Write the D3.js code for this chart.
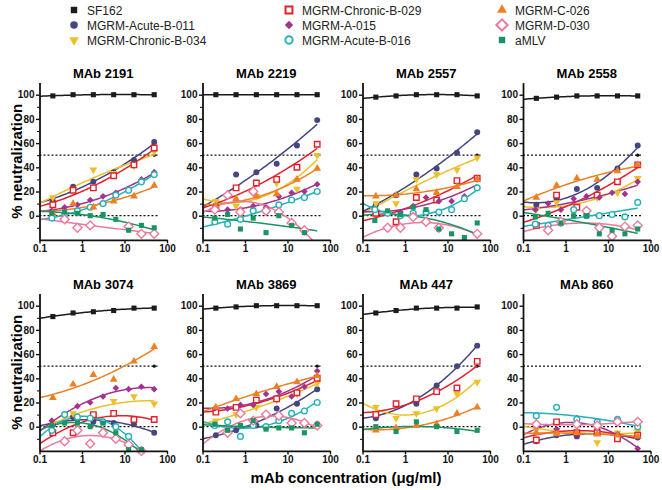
<!DOCTYPE html>
<html>
<head>
<meta charset="utf-8">
<script src="https://cdn.jsdelivr.net/npm/d3@7"></script>
<style>
  body { margin: 0; background: #fff; }
  svg { display: block; font-family: "Liberation Sans", Arial, sans-serif; }
</style>
</head>
<body>
<svg id="chart" width="662" height="490"></svg>
<script>
// dilution series used in the assays (ug/ml)
const conc3 = [0.206, 0.617, 1.85, 5.56, 16.7, 50];
const conc2 = [0.195, 0.39, 0.78, 1.56, 3.125, 6.25, 12.5, 25, 50];

const seriesNames = ["SF162", "MGRM-Acute-B-011", "MGRM-Chronic-B-034",
  "MGRM-Chronic-B-029", "MGRM-A-015", "MGRM-Acute-B-016",
  "MGRM-C-026", "MGRM-D-030", "aMLV"];
const panelTitles = ["MAb 2191", "MAb 2219", "MAb 2557", "MAb 2558",
  "MAb 3074", "MAb 3869", "MAb 447", "MAb 860"];
const xTicks = [0.1, 1, 10, 100];
const yTicks = [0, 20, 40, 60, 80, 100];
const yMinor = [-10, 10, 30, 50, 70, 90];
const refLines = [50, 0];

// [series, concentrations, % neutralization]
const mab2191 = [
  ["SF162", conc3, [99, 100, 100, 100, 100, 100]],
  ["MGRM-Acute-B-011", conc3, [12, 24, 28, 36, 46, 61]],
  ["MGRM-Chronic-B-034", conc3, [15, 22, 38, 35, 41, 53]],
  ["MGRM-Chronic-B-029", conc3, [9, 21, 23, 33, 42, 56]],
  ["MGRM-A-015", conc2, [4, 7, 9, 13, 16, 19, 22, 30, 36]],
  ["MGRM-Acute-B-016", conc2, [-2, 1, 4, 7, 10, 17, 21, 28, 34]],
  ["MGRM-C-026", conc3, [2, 10, 7, 12, 16, 25]],
  ["MGRM-D-030", conc2, [null, -3, -10, -8, null, null, -9, -15, -15]],
  ["aMLV", conc2, [2, 3, 2, 0, 1, -3, -12, -8, -10]]
];
const mab2219 = [
  ["SF162", conc3, [100, 100, 100, 100, 100, 100]],
  ["MGRM-Acute-B-011", conc3, [8, 34, 36, 43, 58, 79]],
  ["MGRM-Chronic-B-034", conc3, [12, 8, 16, 27, 22, 50]],
  ["MGRM-Chronic-B-029", conc3, [6, 23, 27, 30, 40, 59]],
  ["MGRM-A-015", conc2, [4, 5, 5, 8, 7, 16, 19, 20, 26]],
  ["MGRM-Acute-B-016", conc2, [-5, -7, -3, 4, 4, 9, 13, 15, 20]],
  ["MGRM-C-026", conc3, [8, 14, 16, 18, 30, 39]],
  ["MGRM-D-030", conc2, [5, 17, 3, 20, 4, 3, -6, -12, null]],
  ["aMLV", conc2, [-2, 1, -11, -2, -14, 0, -8, -14, null]]
];
const mab2557 = [
  ["SF162", conc3, [98, 99, 100, 100, 100, 99]],
  ["MGRM-Acute-B-011", conc3, [9, 17, 34, 39, 52, 69]],
  ["MGRM-Chronic-B-034", conc3, [10, 10, 30, 34, 38, 48]],
  ["MGRM-Chronic-B-029", conc3, [2, -5, 15, 13, 29, 31]],
  ["MGRM-A-015", conc2, [null, 3, 3, 8, 15, 12, 12, 16, 30]],
  ["MGRM-Acute-B-016", conc2, [5, 2, 0, 2, 3, 3, 5, 14, 23]],
  ["MGRM-C-026", conc3, [16, 17, 22, 19, 24, 30]],
  ["MGRM-D-030", conc2, [null, -10, -10, -1, -5, -10, null, null, -15]],
  ["aMLV", conc2, [-4, 4, 1, 7, 5, -11, -15, -18, -6]]
];
const mab2558 = [
  ["SF162", conc3, [97, 98, 99, 99, 99, 99]],
  ["MGRM-Acute-B-011", conc3, [9, 14, 22, 23, 39, 58]],
  ["MGRM-Chronic-B-034", conc3, [5, 11, 8, 15, 19, 31]],
  ["MGRM-Chronic-B-029", conc3, [-8, 17, 7, 17, 28, 42]],
  ["MGRM-A-015", conc2, [5, 10, 5, 14, 16, 15, 19, 18, 28]],
  ["MGRM-Acute-B-016", conc2, [-7, -8, -6, 5, 0, 0, 1, -1, 11]],
  ["MGRM-C-026", conc3, [15, 25, 31, 30, 37, 42]],
  ["MGRM-D-030", conc2, [null, -12, -5, null, 4, -10, -17, -9, -8]],
  ["aMLV", conc2, [-1, 2, -6, 0, 0, -15, -12, -15, -11]]
];
const mab3074 = [
  ["SF162", conc3, [91, 94, 95, 96, 98, 98]],
  ["MGRM-Acute-B-011", conc3, [2, 8, 4, 3, 2, -5]],
  ["MGRM-Chronic-B-034", conc3, [3, 11, 9, 21, 25, 19]],
  ["MGRM-Chronic-B-029", conc3, [-5, -5, 10, 11, 6, 6]],
  ["MGRM-A-015", conc2, [5, 10, 17, 20, 25, 32, 31, 33, 31]],
  ["MGRM-Acute-B-016", conc2, [-3, 10, 8, 7, 4, 0, -8, -20, null]],
  ["MGRM-C-026", conc3, [24, 35, 43, 39, 54, 66]],
  ["MGRM-D-030", conc2, [null, -12, -3, -14, -5, -10, -15, -20, null]],
  ["aMLV", conc2, [1, 3, 3, 0, 3, -5, -19, -19, null]]
];
const mab3869 = [
  ["SF162", conc3, [98, 99, 100, 100, 100, 100]],
  ["MGRM-Acute-B-011", conc3, [-7, -3, 1, 15, 19, 31]],
  ["MGRM-Chronic-B-034", conc3, [5, 10, 16, 22, 27, 36]],
  ["MGRM-Chronic-B-029", conc3, [12, 16, 22, 23, 28, 40]],
  ["MGRM-A-015", conc2, [15, 15, 18, 18, 27, 29, 25, 33, 46]],
  ["MGRM-Acute-B-016", conc2, [1, 4, -8, 1, 0, 5, 11, 13, 20]],
  ["MGRM-C-026", conc3, [16, 23, 27, 33, 37, 42]],
  ["MGRM-D-030", conc2, [null, -5, 11, 5, 10, 9, 3, 3, 1]],
  ["aMLV", conc2, [2, -3, 1, 5, -2, -1, -1, -5, 2]]
];
const mab447 = [
  ["SF162", conc3, [94, 96, 98, 98, 98, 99]],
  ["MGRM-Acute-B-011", conc3, [7, 19, 19, 34, 50, 67]],
  ["MGRM-Chronic-B-034", conc3, [16, 7, 11, 15, 27, 37]],
  ["MGRM-Chronic-B-029", conc3, [10, 19, 23, 29, 32, 54]],
  ["MGRM-C-026", conc3, [-3, -1, 1, 2, 11, 16]],
  ["aMLV", conc3, [0, -4, 4, 0, -4, -3]]
];
const mab860 = [
  ["MGRM-Acute-B-011", conc3, [-12, -7, -8, -3, -10, -9]],
  ["MGRM-Chronic-B-034", conc3, [-3, -3, 1, -13, -5, -4]],
  ["MGRM-Chronic-B-029", conc3, [-11, 4, -5, -5, -10, -7]],
  ["MGRM-A-015", conc3, [0, -2, 7, -1, -6, -18]],
  ["MGRM-Acute-B-016", conc3, [9, 16, 6, 4, 6, 0]],
  ["MGRM-C-026", conc3, [-5, -6, -5, -6, -7, -8]],
  ["MGRM-D-030", conc3, [2, null, 2, 1, 4, 4]]
];
const panels = [mab2191, mab2219, mab2557, mab2558, mab3074, mab3869, mab447, mab860];

// marker look per series
const rotSquare = { draw: (ctx, size) => { const r = Math.sqrt(size) / Math.SQRT2;
  ctx.moveTo(0, -r); ctx.lineTo(r, 0); ctx.lineTo(0, r); ctx.lineTo(-r, 0); ctx.closePath(); } };
const style = {
  "SF162":              { color: "#1b1b1b", sym: d3.symbolSquare,   size: 26, fill: true },
  "MGRM-Acute-B-011":   { color: "#45457f", sym: d3.symbolCircle,   size: 28, fill: true },
  "MGRM-Chronic-B-034": { color: "#eac12a", sym: d3.symbolTriangle, size: 26, fill: true, flip: true },
  "MGRM-Chronic-B-029": { color: "#e2212d", sym: d3.symbolSquare,   size: 30, fill: false },
  "MGRM-A-015":         { color: "#a3348d", sym: rotSquare,         size: 22, fill: true },
  "MGRM-Acute-B-016":   { color: "#24b2b8", sym: d3.symbolCircle,   size: 26, fill: false },
  "MGRM-C-026":         { color: "#ef7f23", sym: d3.symbolTriangle, size: 26, fill: true },
  "MGRM-D-030":         { color: "#ea7a9c", sym: rotSquare,         size: 40, fill: false },
  "aMLV":               { color: "#1b9462", sym: d3.symbolSquare,   size: 26, fill: true }
};

// least squares y = a + b t + c t^2, t = log10(conc)
function fitQuad(ts, ys) {
  const S = [0, 0, 0, 0, 0], T = [0, 0, 0];
  ts.forEach((t, i) => {
    let p = 1;
    for (let k = 0; k < 5; k++) { S[k] += p; if (k < 3) T[k] += p * ys[i]; p *= t; }
  });
  const M = [[S[0], S[1], S[2], T[0]], [S[1], S[2], S[3], T[1]], [S[2], S[3], S[4], T[2]]];
  for (let c = 0; c < 3; c++) {
    let piv = c;
    for (let r = c + 1; r < 3; r++) if (Math.abs(M[r][c]) > Math.abs(M[piv][c])) piv = r;
    [M[c], M[piv]] = [M[piv], M[c]];
    for (let r = 0; r < 3; r++) {
      if (r === c) continue;
      const f = M[r][c] / M[c][c];
      for (let k = c; k < 4; k++) M[r][k] -= f * M[c][k];
    }
  }
  const a = M[0][3] / M[0][0], b = M[1][3] / M[1][1], c = M[2][3] / M[2][2];
  return t => a + b * t + c * t * t;
}

const svg = d3.select("#chart");
const colLeft = [39.5, 202.5, 362.5, 523];
const rowZero = [215.7, 426.7];   // pixel row of 0 %
const unit = 1.21, plotW = 127.5;

function symbolPath(st, scale) {
  return d3.symbol().type(st.sym).size(st.size * (scale || 1))();
}

panels.forEach((series, i) => {
  const col = i % 4, row = Math.floor(i / 4);
  const x = d3.scaleLog().domain([0.1, 100]).range([colLeft[col], colLeft[col] + plotW]);
  const y = d3.scaleLinear().domain([-20, 110])
    .range([rowZero[row] + 20 * unit, rowZero[row] - 110 * unit]);
  const g = svg.append("g");

  const clipId = "clip" + i;
  g.append("clipPath").attr("id", clipId).append("rect")
    .attr("x", x(0.1)).attr("y", y(110)).attr("width", plotW).attr("height", y(-20) - y(110));

  g.append("text").attr("x", (x(0.1) + x(100)) / 2).attr("y", y(110) - 5)
    .attr("text-anchor", "middle").attr("font-size", 13).attr("font-weight", "bold")
    .text(panelTitles[i]);

  // reference lines at 50% and 0%
  refLines.forEach(v => {
    g.append("line").attr("x1", x(0.1)).attr("x2", x(60)).attr("y1", y(v)).attr("y2", y(v))
      .attr("stroke", "#111").attr("stroke-width", 1.3).attr("stroke-dasharray", "2,2");
  });
  if (i < 7) g.append("circle").attr("cx", x(50)).attr("cy", y(50)).attr("r", 1.6).attr("fill", "#111");

  const curves = g.append("g").attr("clip-path", `url(#${clipId})`);
  const samples = d3.range(0, 61).map(k => -1 + k * (Math.log10(50) + 1) / 60);
  const line = d3.line().x(d => x(Math.pow(10, d[0]))).y(d => y(d[1]));

  series.forEach(([name, conc, vals]) => {
    const st = style[name];
    const pts = conc.map((c, k) => [c, vals[k]]).filter(d => d[1] != null);
    const f = fitQuad(pts.map(d => Math.log10(d[0])), pts.map(d => d[1]));
    curves.append("path").attr("d", line(samples.map(t => [t, f(t)])))
      .attr("fill", "none").attr("stroke", st.color).attr("stroke-width", 1.5);
  });

  series.forEach(([name, conc, vals]) => {
    const st = style[name];
    const pts = conc.map((c, k) => [c, vals[k]]).filter(d => d[1] != null);
    g.append("g").selectAll("path").data(pts).join("path")
      .attr("d", symbolPath(st))
      .attr("transform", d => `translate(${x(d[0])},${y(d[1])})` + (st.flip ? " rotate(180)" : ""))
      .attr("fill", st.fill ? st.color : "#fff")
      .attr("stroke", st.fill ? "none" : st.color)
      .attr("stroke-width", 1.4);
  });

  // axes
  const ax = g.append("g").attr("transform", `translate(${x(0.1)},0)`)
    .call(d3.axisLeft(y).tickValues(yTicks).tickSize(3.5).tickSizeOuter(0).tickPadding(1.5));
  g.append("g").attr("transform", `translate(${x(0.1)},0)`)
    .call(d3.axisLeft(y).tickValues(yMinor).tickSize(2.5).tickSizeOuter(0).tickFormat(""))
    .select(".domain").remove();
  const bx = g.append("g").attr("transform", `translate(0,${y(-20)})`)
    .call(d3.axisBottom(x).tickValues(xTicks).tickFormat(d => String(d)).tickSize(3.5).tickSizeOuter(0).tickPadding(2));
  [ax, bx].forEach(a => {
    a.select(".domain").attr("stroke-width", 1.8).attr("stroke", "#111");
    a.selectAll(".tick line").attr("stroke-width", 1.4).attr("stroke", "#111");
    a.selectAll("text").attr("font-size", 10).attr("font-weight", "bold")
      .attr("font-family", "'Liberation Sans', Arial, sans-serif").attr("fill", "#111");
  });

  if (col === 0) {
    g.append("text").attr("transform", `translate(22,${y(45)}) rotate(-90)`)
      .attr("text-anchor", "middle").attr("font-size", 15).attr("font-weight", "bold")
      .text("% neutralization");
  }
});

svg.append("text").attr("x", 346).attr("y", 483).attr("text-anchor", "middle")
  .attr("font-size", 15).attr("font-weight", "bold")
  .text("mAb concentration (\u03bcg/ml)");

// legend, three columns
const legX = [74, 289, 502], legY = [10, 25, 40];
seriesNames.forEach((name, k) => {
  const st = style[name];
  const lx = legX[Math.floor(k / 3)], ly = legY[k % 3];
  svg.append("path").attr("d", symbolPath(st, 1.6))
    .attr("transform", `translate(${lx},${ly})` + (st.flip ? " rotate(180)" : ""))
    .attr("fill", st.fill ? st.color : "#fff")
    .attr("stroke", st.fill ? "none" : st.color).attr("stroke-width", 2);
  svg.append("text").attr("x", lx + 13).attr("y", ly + 4.5).attr("font-size", 12)
    .attr("fill", "#222").text(name);
});
</script>
</body>
</html>
